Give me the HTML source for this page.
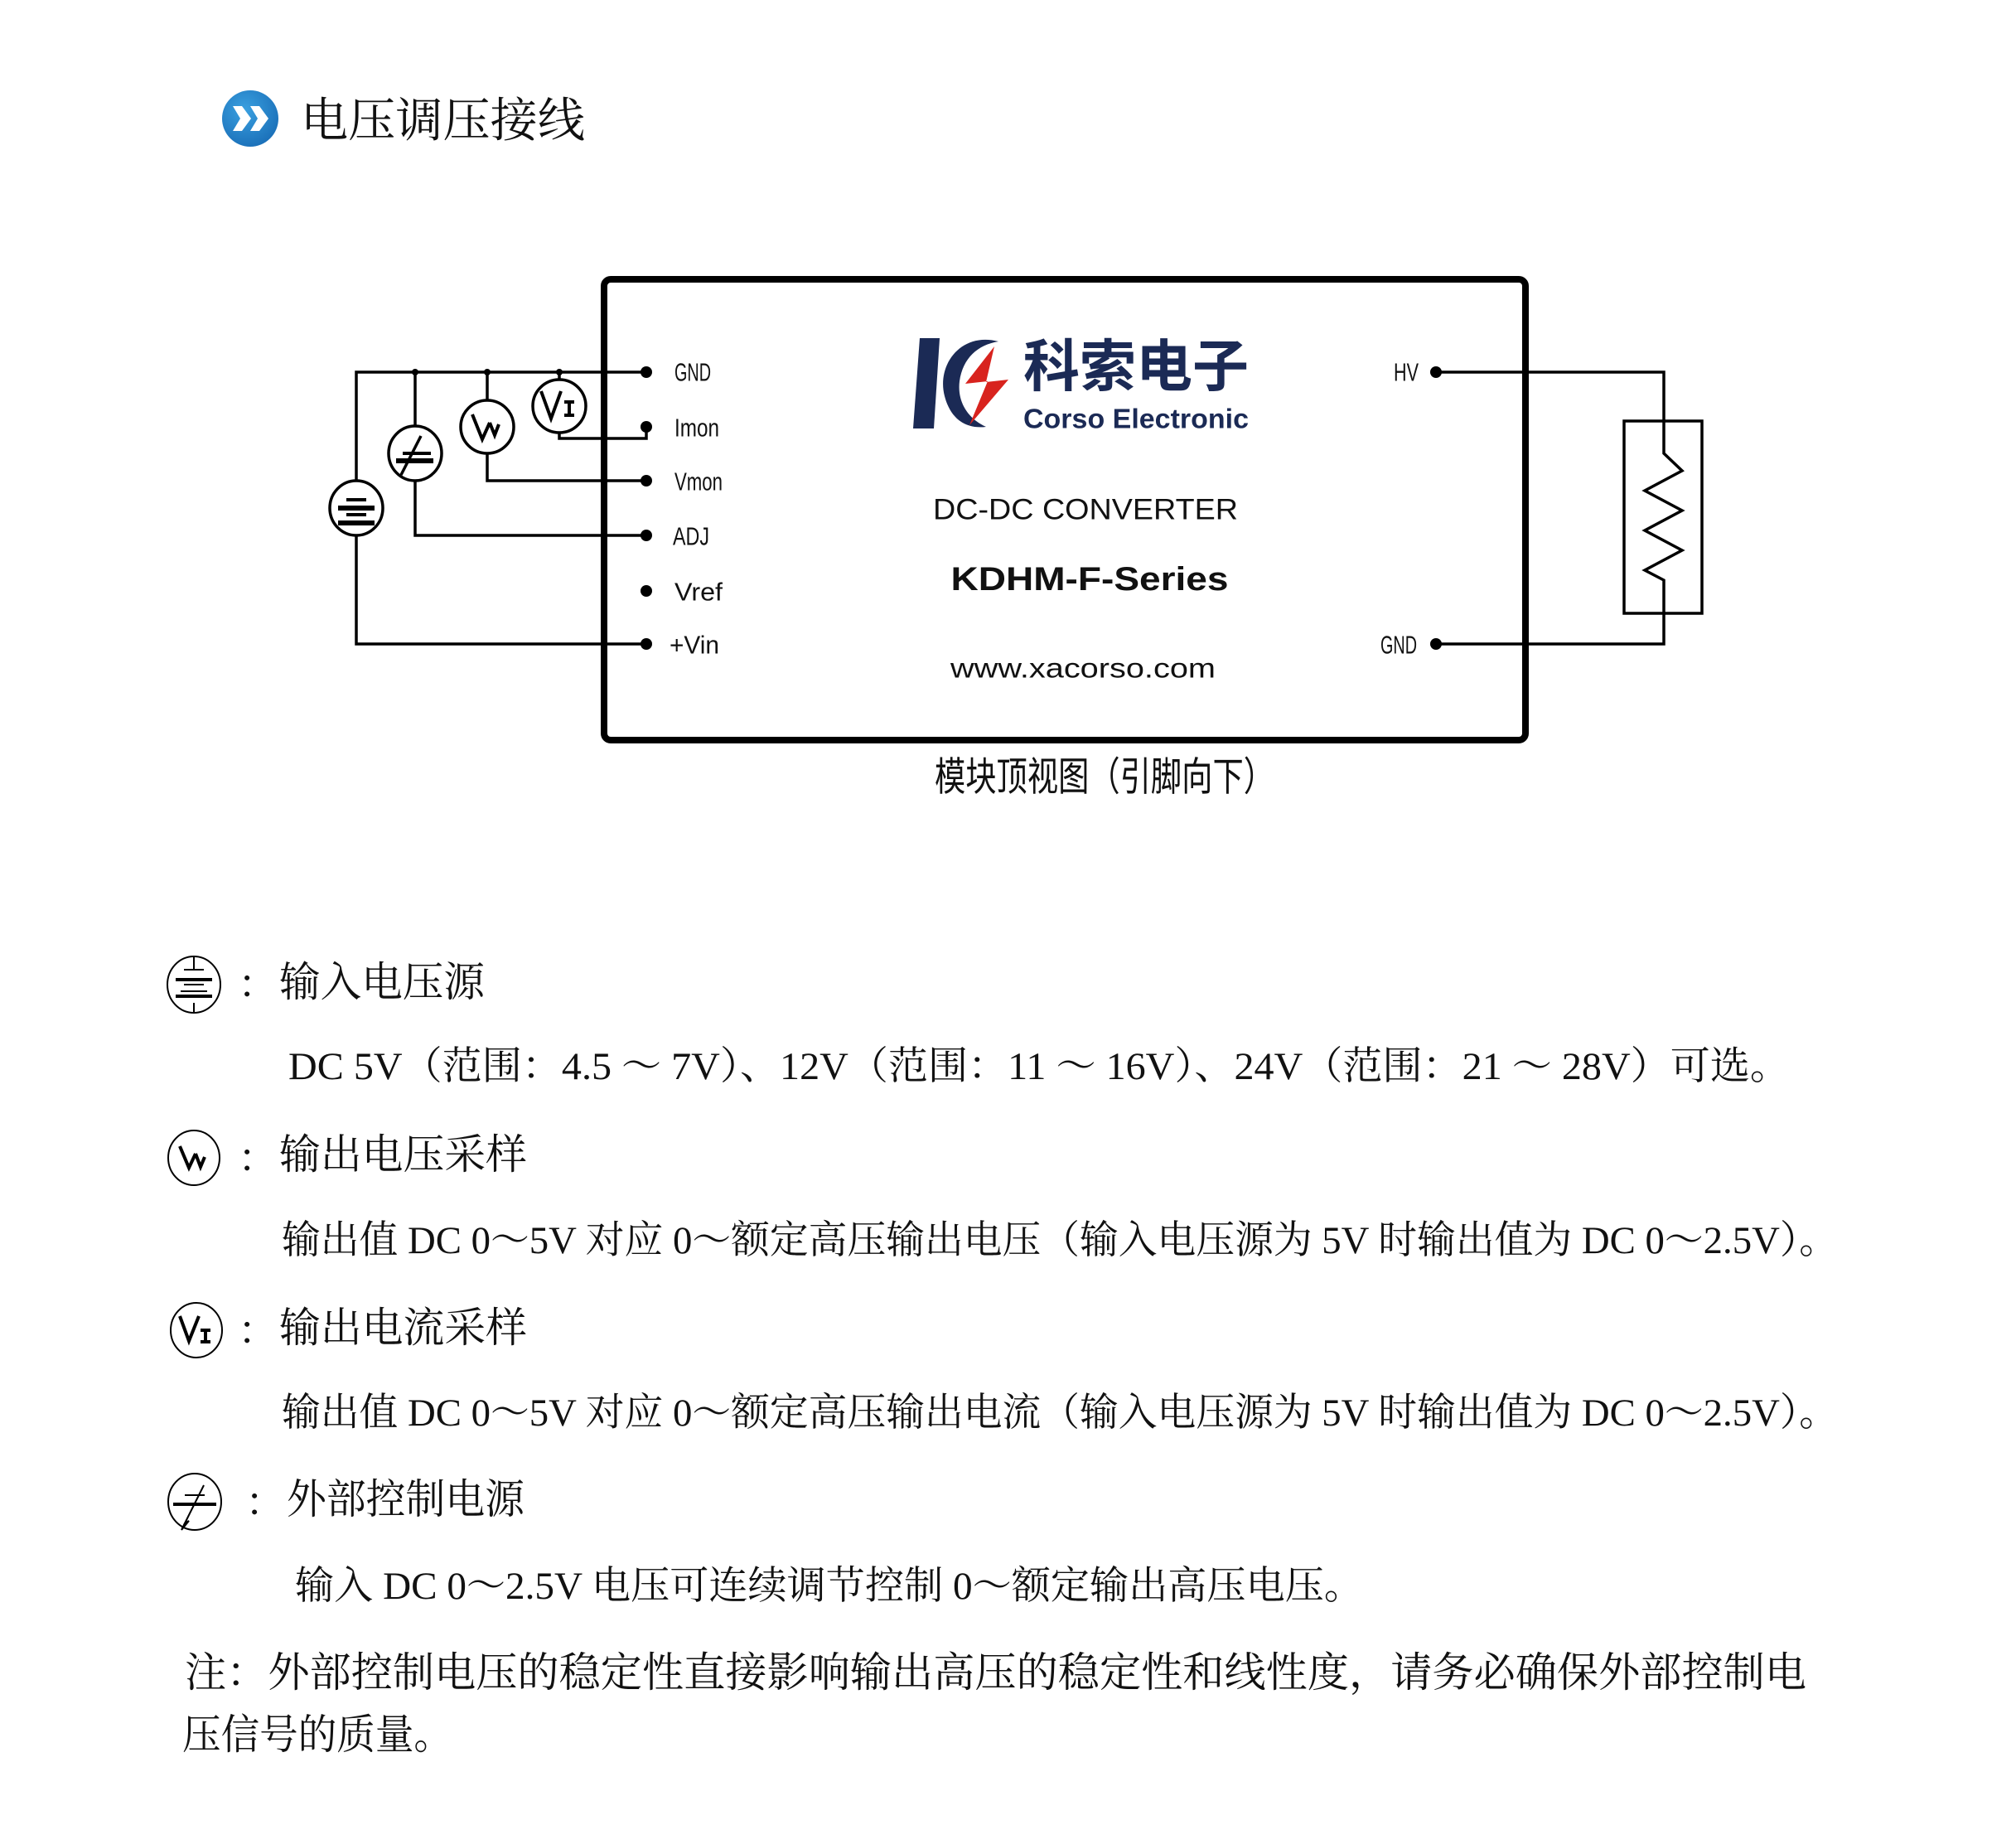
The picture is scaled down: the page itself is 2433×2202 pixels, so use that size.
<!DOCTYPE html>
<html><head><meta charset="utf-8"><style>
html,body{margin:0;padding:0;background:#fff;}
svg{display:block;}
.s{font-family:"Liberation Serif","Noto Serif CJK SC",serif;fill:#111;}
.n{font-family:"Liberation Sans","Noto Sans CJK SC",sans-serif;fill:#111;}
</style></head><body>
<svg width="2433" height="2202" viewBox="0 0 2433 2202" xmlns="http://www.w3.org/2000/svg">
<defs>
<radialGradient id="bg" cx="0.4" cy="0.35" r="0.7"><stop offset="0" stop-color="#3aa0e0"/><stop offset="1" stop-color="#1a6fb8"/></radialGradient>
</defs>
<!-- title -->
<circle cx="302" cy="143" r="34" fill="url(#bg)"/>
<path d="M281 128 L292 128 L303 143 L292 158 L281 158 L290 143 Z" fill="#fff"/>
<path d="M302 128 L313 128 L324 143 L313 158 L302 158 L311 143 Z" fill="#fff"/>
<text class="s" x="363" y="146" font-size="57" dominant-baseline="central" textLength="343" lengthAdjust="spacingAndGlyphs">电压调压接线</text>

<!-- module box -->
<rect x="729" y="337" width="1112" height="556" rx="8" fill="none" stroke="#000" stroke-width="8"/>

<!-- logo -->
<path d="M1110 408 L1134 408 L1127 517 L1102 517 Z" fill="#1b2a55"/>
<path d="M1205 412 C1160 400 1130 440 1140 478 C1147 505 1165 518 1190 515 C1168 505 1155 485 1158 460 C1162 432 1180 416 1205 412 Z" fill="#1b2a55"/>
<path d="M1200 418 L1165 463 L1192 460 L1170 513 L1217 458 L1190 461 Z" fill="#d8231e"/>
<text x="1235" y="443" font-family="Liberation Sans,'Noto Sans CJK SC',sans-serif" font-weight="bold" font-size="68" fill="#1b2a55" dominant-baseline="central" textLength="272" lengthAdjust="spacingAndGlyphs">科索电子</text>
<text x="1235" y="505" font-family="Liberation Sans,sans-serif" font-weight="bold" font-size="33" fill="#1b2a55" dominant-baseline="central" textLength="272" lengthAdjust="spacingAndGlyphs">Corso Electronic</text>

<text class="n" x="1310" y="615" font-size="35" text-anchor="middle" dominant-baseline="central" textLength="368" lengthAdjust="spacingAndGlyphs">DC-DC CONVERTER</text>
<text class="n" x="1315" y="699" font-size="40" font-weight="bold" text-anchor="middle" dominant-baseline="central" textLength="335" lengthAdjust="spacingAndGlyphs">KDHM-F-Series</text>
<text class="n" x="1307" y="806" font-size="33" text-anchor="middle" dominant-baseline="central" textLength="320" lengthAdjust="spacingAndGlyphs">www.xacorso.com</text>
<text class="n" x="1333" y="938" font-size="48" text-anchor="middle" dominant-baseline="central" textLength="410" lengthAdjust="spacingAndGlyphs">模块顶视图（引脚向下）</text>

<!-- pins left -->
<g fill="#000">
<circle cx="780" cy="449" r="7"/><circle cx="780" cy="515" r="7"/><circle cx="780" cy="580" r="7"/>
<circle cx="780" cy="646" r="7"/><circle cx="780" cy="713" r="7"/><circle cx="780" cy="777" r="7"/>
<circle cx="1733" cy="449" r="7"/><circle cx="1733" cy="777" r="7"/>
<circle cx="501" cy="449" r="4"/><circle cx="588" cy="449" r="4"/><circle cx="675" cy="449" r="4"/>
</g>
<g class="n" font-size="31" dominant-baseline="central">
<text x="814" y="449" textLength="44" lengthAdjust="spacingAndGlyphs">GND</text>
<text x="814" y="516" textLength="54" lengthAdjust="spacingAndGlyphs">Imon</text>
<text x="814" y="581" textLength="58" lengthAdjust="spacingAndGlyphs">Vmon</text>
<text x="812" y="647" textLength="44" lengthAdjust="spacingAndGlyphs">ADJ</text>
<text x="814" y="714" textLength="58" lengthAdjust="spacingAndGlyphs">Vref</text>
<text x="808" y="778" textLength="60" lengthAdjust="spacingAndGlyphs">+Vin</text>
<text x="1682" y="449" textLength="30" lengthAdjust="spacingAndGlyphs">HV</text>
<text x="1666" y="778" textLength="44" lengthAdjust="spacingAndGlyphs">GND</text>
</g>

<!-- left wiring -->
<g fill="none" stroke="#000" stroke-width="3.5">
<path d="M780 449 H430 V580"/>
<path d="M430 646 V777 H780"/>
<path d="M501 449 V514 M501 580 V646 H780"/>
<path d="M588 449 V483 M588 547 V580 H780"/>
<path d="M675 449 V458 M675 522 V529 H780 V515"/>
<!-- right -->
<path d="M1733 449 H2008 V547 L2030 568 L1985 592 L2030 616 L1985 640 L2030 664 L1985 688 L2008 700 V777 H1733"/>
<rect x="1960" y="508" width="94" height="232"/>
</g>
<g fill="#fff" stroke="#000" stroke-width="3.5">
<ellipse cx="430" cy="613" rx="32" ry="33"/>
<ellipse cx="501" cy="547" rx="32" ry="33"/>
<ellipse cx="588" cy="515" rx="32" ry="32"/>
<ellipse cx="675" cy="490" rx="32" ry="32"/>
</g>
<g stroke="#000" fill="none">
<path d="M418 603 H442 M408 613 H452 M418 621 H442 M408 631 H452" stroke-width="4"/>
<path d="M408 613 H452 M408 631 H452" stroke-width="6"/>
<path d="M486 547 H520" stroke-width="4"/><path d="M478 556 H523" stroke-width="6"/>
<path d="M508 526 L484 573" stroke-width="3.5"/>
<path d="M570 500 L582 530 L591 510 M591 510 L597 525 L602 512" stroke-width="4"/>
<path d="M653 472 L665 505 L677 472" stroke-width="4"/>
<path d="M681 485 H693 M687 485 V501 M681 501 H693" stroke-width="4"/>
</g>

<!-- legend -->
<g stroke="#000" fill="none" stroke-width="2">
<ellipse cx="234" cy="1188" rx="32" ry="34"/>
<path d="M234 1154 V1170 M222 1170 H246 M218 1196 H250 M222 1188 H246 M234 1210 V1222"/>
<path d="M212 1182 H256 M212 1202 H256" stroke-width="4"/>
<ellipse cx="234" cy="1397" rx="31" ry="33"/>
<path d="M217 1383 L228 1409 L236 1392 M236 1392 L242 1408 L247 1396" stroke-width="4"/>
<ellipse cx="237" cy="1605" rx="31" ry="33"/>
<path d="M217 1588 L228 1618 L240 1588" stroke-width="4"/>
<path d="M242 1605 H254 M248 1605 V1619 M242 1619 H254" stroke-width="4"/>
<ellipse cx="235" cy="1812" rx="32" ry="34"/>
<path d="M223 1804 H247"/><path d="M209 1815 H261" stroke-width="4"/>
<path d="M246 1792 L222 1840" stroke-width="2"/>
<path d="M223 1838 L219 1846 L228 1835 Z" fill="#000"/>
</g>
<g class="s" dominant-baseline="central">
<text x="287" y="1188" font-size="48">：</text>
<text x="337" y="1185" font-size="50" textLength="248" lengthAdjust="spacingAndGlyphs">输入电压源</text>
<text x="348" y="1287" font-size="47" textLength="1812" lengthAdjust="spacingAndGlyphs">DC 5V（范围：4.5 ～ 7V）、12V（范围：11 ～ 16V）、24V（范围：21 ～ 28V）可选。</text>
<text x="287" y="1398" font-size="48">：</text>
<text x="337" y="1393" font-size="50" textLength="299" lengthAdjust="spacingAndGlyphs">输出电压采样</text>
<text x="340" y="1497" font-size="47" textLength="1878" lengthAdjust="spacingAndGlyphs">输出值 DC 0～5V 对应 0～额定高压输出电压（输入电压源为 5V 时输出值为 DC 0～2.5V）。</text>
<text x="287" y="1606" font-size="48">：</text>
<text x="337" y="1602" font-size="50" textLength="299" lengthAdjust="spacingAndGlyphs">输出电流采样</text>
<text x="340" y="1705" font-size="47" textLength="1878" lengthAdjust="spacingAndGlyphs">输出值 DC 0～5V 对应 0～额定高压输出电流（输入电压源为 5V 时输出值为 DC 0～2.5V）。</text>
<text x="296" y="1813" font-size="48">：</text>
<text x="346" y="1809" font-size="50" textLength="287" lengthAdjust="spacingAndGlyphs">外部控制电源</text>
<text x="356" y="1914" font-size="47" textLength="1289" lengthAdjust="spacingAndGlyphs">输入 DC 0～2.5V 电压可连续调节控制 0～额定输出高压电压。</text>
<text x="223" y="2018" font-size="50" textLength="1957" lengthAdjust="spacingAndGlyphs">注：外部控制电压的稳定性直接影响输出高压的稳定性和线性度，请务必确保外部控制电</text>
<text x="220" y="2093" font-size="50" textLength="326" lengthAdjust="spacingAndGlyphs">压信号的质量。</text>
</g>
</svg>
</body></html>
